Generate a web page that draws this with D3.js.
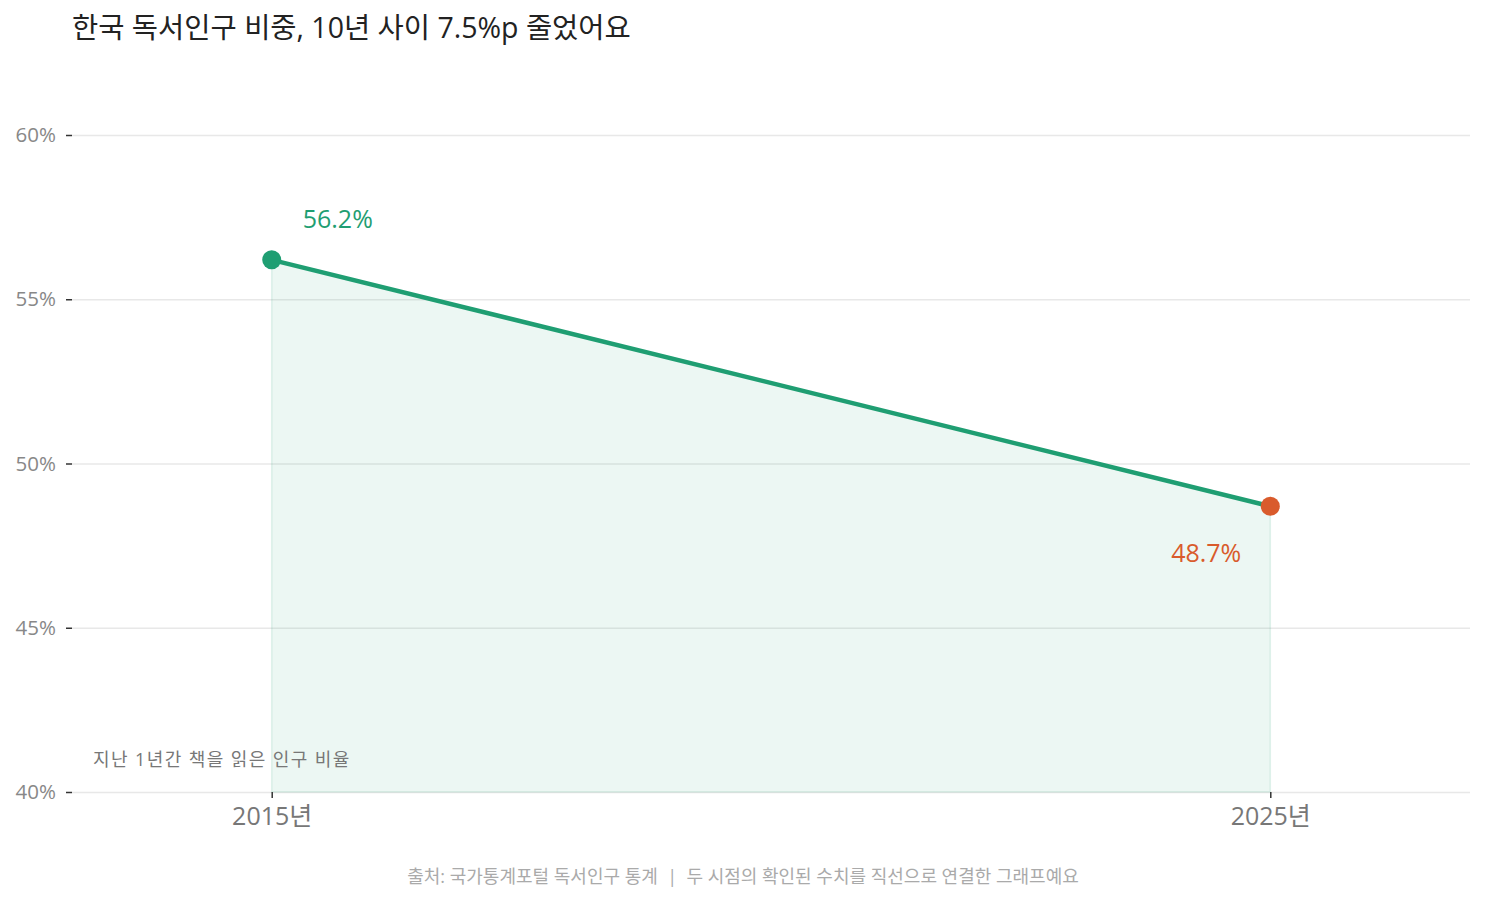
<!DOCTYPE html>
<html lang="ko">
<head>
  <meta charset="UTF-8">
  <title>한국 독서인구 비중</title>
  <script src="https://d3js.org/d3.v7.min.js"></script>
  <style>
    body {
      margin: 0;
      background: #fff;
      font-family: 'Open Sans', 'Noto Sans CJK KR', sans-serif;
    }
    svg { display: block; }
    svg text { font-family: 'Open Sans', 'Noto Sans CJK KR', sans-serif; white-space: pre; }
    .grid line { stroke: #e8e8e8; stroke-width: 1.5; }
    .grid .domain { display: none; }
  </style>
</head>
<body>
  <svg id="chart" width="1485" height="903"></svg>
  <script>
    const years = ["2015년", "2025년"];
    const readingRate = [56.2, 48.7];
    const yTicks = [40, 45, 50, 55, 60];
    const pointColors = ["#1f9e72", "#d95b2c"];

    const svg = d3.select("#chart");
    const margin = { top: 135, right: 15, bottom: 111, left: 72 };
    const width = 1485 - margin.left - margin.right;
    const height = 903 - margin.top - margin.bottom;
    const lineColor = "#1f9e72";

    const x = d3.scalePoint().domain(years).range([0, width]).padding(0.2);
    const y = d3.scaleLinear().domain([40, 60]).range([height, 0]);

    const g = svg.append("g").attr("transform", `translate(${margin.left},${margin.top})`);

    // gridlines
    g.append("g").attr("class", "grid")
      .call(d3.axisLeft(y).tickValues(yTicks).tickSize(-width).tickFormat(""));

    // y axis ticks + labels
    const yAxis = g.append("g")
      .call(d3.axisLeft(y).tickValues(yTicks).tickSize(6).tickPadding(10).tickFormat(d => d + "%"));
    yAxis.select(".domain").remove();
    yAxis.selectAll(".tick line").attr("stroke", "#333").attr("stroke-width", 1.5);
    yAxis.attr("font-size", null).attr("font-family", null);
    yAxis.selectAll("text").attr("fill", "#888").style("font-size", "20.5px");

    const data = years.map((yr, i) => ({ year: yr, value: readingRate[i], color: pointColors[i] }));

    // area under the line
    const area = d3.area().x(d => x(d.year)).y0(y(40)).y1(d => y(d.value));
    g.append("path").datum(data)
      .attr("d", area)
      .attr("fill", "rgba(31,158,114,0.085)")
      .attr("stroke", "rgba(31,158,114,0.12)")
      .attr("stroke-width", 1.5);

    // x axis
    const xAxis = g.append("g")
      .attr("transform", `translate(0,${height})`)
      .call(d3.axisBottom(x).tickSize(6).tickPadding(9));
    xAxis.select(".domain").remove();
    xAxis.selectAll(".tick line").attr("stroke", "#333").attr("stroke-width", 1.5);
    xAxis.attr("font-size", null).attr("font-family", null);
    xAxis.selectAll("text").attr("fill", "#777").style("font-size", "25px");

    // line
    const line = d3.line().x(d => x(d.year)).y(d => y(d.value));
    g.append("path").datum(data)
      .attr("d", line)
      .attr("fill", "none")
      .attr("stroke", lineColor)
      .attr("stroke-width", 4.5);

    g.selectAll("circle.pt").data(data).join("circle")
      .attr("class", "pt")
      .attr("cx", d => x(d.year))
      .attr("cy", d => y(d.value))
      .attr("r", 9.5)
      .attr("fill", d => d.color);

    // value labels
    g.selectAll("text.val").data(data).join("text")
      .attr("class", "val")
      .attr("x", (d, i) => x(d.year) + (i === 0 ? 31 : -29))
      .attr("y", (d, i) => y(d.value) + (i === 0 ? -32 : 56))
      .attr("text-anchor", (d, i) => i === 0 ? "start" : "end")
      .attr("fill", d => d.color)
      .style("font-size", "25px")
      .text(d => d.value.toFixed(1) + "%");

    // annotation
    g.append("text")
      .attr("x", 21).attr("y", height - 26)
      .attr("fill", "#777").style("font-size", "18px")
      .attr("letter-spacing", 1.4)
      .text("지난 1년간 책을 읽은 인구 비율");

    // title
    svg.append("text")
      .attr("x", 72).attr("y", 38)
      .attr("fill", "#222").style("font-size", "28.5px")
      .text("한국 독서인구 비중, 10년 사이 7.5%p 줄었어요");

    // source
    svg.append("text")
      .attr("x", 743).attr("y", 883)
      .attr("text-anchor", "middle")
      .attr("fill", "#aaa").style("font-size", "18px")
      .text("출처: 국가통계포털 독서인구 통계  |  두 시점의 확인된 수치를 직선으로 연결한 그래프예요");
  </script>
</body>
</html>
